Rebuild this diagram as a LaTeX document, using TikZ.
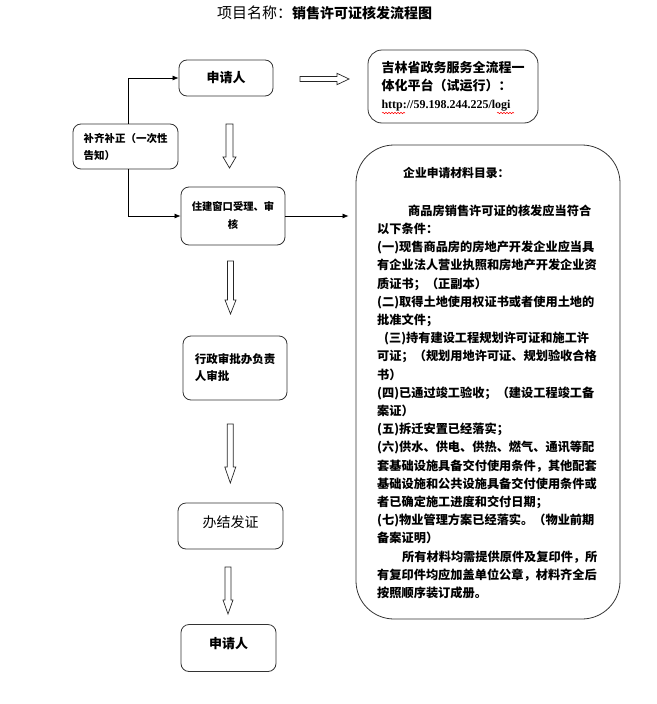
\documentclass[tikz,border=0pt]{standalone}
\usepackage{fontspec}
\setmainfont{Noto Sans CJK SC}
\newfontfamily\urlfont{Liberation Serif}
\usetikzlibrary{arrows.meta,decorations.pathmorphing}
\tikzset{
 box/.style={draw=black!80, line width=0.8pt, rounded corners=8pt, inner sep=0pt, align=center},
 conn/.style={line width=0.7pt, -{Latex[length=6pt,width=5pt]}},
 blk/.style={draw=black!85, line width=0.7pt, fill=white},
 wavy/.style={red, line width=0.5pt, decorate, decoration={snake, amplitude=0.7pt, segment length=3pt}}
}
\newcommand{\vblockarrow}[6]{%
 \draw[blk] ({#1-#5},#2) -- ({#1+#5},#2) -- ({#1+#5},#3) -- ({#1+#6},#3) -- (#1,#4) -- ({#1-#6},#3) -- ({#1-#5},#3) -- cycle;}
\begin{document}
\begin{tikzpicture}[x=1pt,y=-1pt]
\useasboundingbox (0,0) rectangle (656,704);

% title
\node[anchor=west, inner sep=0pt] (title) at (217,13) {{\fontsize{15}{15}\selectfont 项目名称：}{\bfseries\fontsize{14}{14}\selectfont 销售许可证核发流程图}};

% left column boxes
\node[box, minimum width=94pt, minimum height=36pt, font=\bfseries\fontsize{13}{13}\selectfont] (sq1) at (226,78) {申请人};
\node[box, minimum width=105pt, minimum height=45pt, align=left, font=\bfseries\fontsize{10.5}{17}\selectfont] (bq) at (125.5,146.5) {补齐补正（一次性\\告知）};
\node[box, minimum width=104pt, minimum height=58pt, font=\bfseries\fontsize{10.3}{18}\selectfont] (zj) at (233,216) {住建窗口受理、审\\核};
\node[box, minimum width=104pt, minimum height=64pt, align=left, font=\bfseries\fontsize{11.5}{17}\selectfont] (xz) at (235,368) {行政审批办负责\\人审批};
\node[box, minimum width=105pt, minimum height=46pt, font=\fontsize{14}{14}\selectfont, text height=10pt, text depth=8pt] (bj) at (230.5,526) {办结发证};
\node[box, minimum width=95pt, minimum height=47pt, font=\bfseries\fontsize{13}{13}\selectfont, text height=10pt, text depth=10pt] (sq2) at (228.5,648) {申请人};

% platform box
\node[box, rounded corners=14pt, minimum width=170pt, minimum height=73pt, align=left, font=\bfseries\fontsize{13}{18}\selectfont] (pf) at (453,86.5) {吉林省政务服务全流程一\\体化平台（试运行）：\\{\urlfont\bfseries\fontsize{12}{18}\selectfont http://59.198.244.225/logi}};
\draw[wavy] (382,113) -- (405,113);
\draw[wavy] (497,113) -- (514,113);

% big materials box
\node[draw=black!80, line width=0.8pt, rounded corners=38pt, minimum width=264pt, minimum height=474pt, inner sep=0pt] (big) at (488,382) {};
\node[anchor=west, inner sep=0pt, font=\bfseries\fontsize{11.8}{11.8}\selectfont] (cat) at (403,173) {企业申请材料目录：};
\node[anchor=north west, align=left, inner sep=0pt, font=\bfseries\fontsize{12.2}{18.2}\selectfont] (req) at (377,204.5) {%
\hspace*{31pt}商品房销售许可证的核发应当符合\\
以下条件：\\
(一)现售商品房的房地产开发企业应当具\\
有企业法人营业执照和房地产开发企业资\\
质证书；（正副本）\\
(二)取得土地使用权证书或者使用土地的\\
批准文件；\\
\hspace*{7pt}(三)持有建设工程规划许可证和施工许\\
可证；（规划用地许可证、规划验收合格\\
书）\\
(四)已通过竣工验收；（建设工程竣工备\\
案证）\\
(五)拆迁安置已经落实；\\
(六)供水、供电、供热、燃气、通讯等配\\
套基础设施具备交付使用条件，其他配套\\
基础设施和公共设施具备交付使用条件或\\
者已确定施工进度和交付日期；\\
(七)物业管理方案已经落实。（物业前期\\
备案证明）\\
\hspace*{25pt}所有材料均需提供原件及复印件，所\\
有复印件均应加盖单位公章，材料齐全后\\
按照顺序装订成册。};

% connectors
\draw[conn] ([xshift=2.5pt]bq.north) |- (sq1.west);
\draw[conn] ([xshift=2.5pt]bq.south) |- (zj.west);
\draw[conn, shorten >=7pt] (zj.east) -- (zj.east -| big.west);

% block arrows
\draw[blk] (300,76.5) -- (337,76.5) -- (337,73.3) -- (349,79) -- (337,84.7) -- (337,81.5) -- (300,81.5) -- cycle;
\vblockarrow{229.5}{124}{157}{168}{3.5}{6.5}
\vblockarrow{230.5}{261}{300}{314}{3}{5.5}
\vblockarrow{230.3}{424}{467}{483}{3}{5.5}
\vblockarrow{228}{567}{600}{614}{3}{5}
\end{tikzpicture}
\end{document}
